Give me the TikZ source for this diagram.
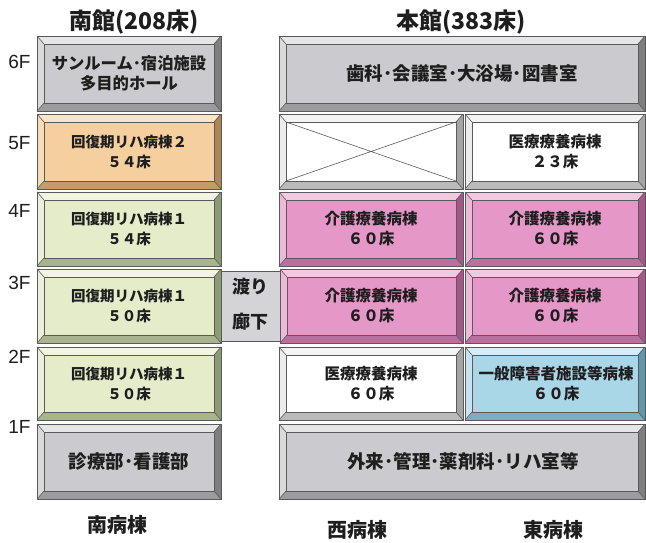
\documentclass[tikz,border=0pt]{standalone}
\usepackage{fontspec}
\newfontfamily\jp{Noto Sans CJK JP}
\newfontfamily\lat{Liberation Sans}
\definecolor{txt}{HTML}{1E1E1E}
\definecolor{edgec}{HTML}{5A5A5A}
% gray
\definecolor{grF}{HTML}{CBCBCF}\definecolor{grT}{HTML}{E6E6E8}\definecolor{grL}{HTML}{DADADD}
\definecolor{grR}{HTML}{7F7F82}\definecolor{grB}{HTML}{9C9C9F}
% orange
\definecolor{orF}{HTML}{F6CF9E}\definecolor{orT}{HTML}{FBE5C8}\definecolor{orL}{HTML}{F9DCB6}
\definecolor{orR}{HTML}{AE8656}\definecolor{orB}{HTML}{C29C6C}
% green
\definecolor{gnF}{HTML}{E4ECCA}\definecolor{gnT}{HTML}{F1F5E2}\definecolor{gnL}{HTML}{EBF1D8}
\definecolor{gnR}{HTML}{8D9B72}\definecolor{gnB}{HTML}{A8B48B}
% pink
\definecolor{pkF}{HTML}{E597C8}\definecolor{pkT}{HTML}{F3C8E2}\definecolor{pkL}{HTML}{EEB8D8}
\definecolor{pkR}{HTML}{A4588A}\definecolor{pkB}{HTML}{BC6E9E}
% white
\definecolor{whF}{HTML}{FFFFFF}\definecolor{whT}{HTML}{F4F4F4}\definecolor{whL}{HTML}{ECECEC}
\definecolor{whR}{HTML}{A4A4A4}\definecolor{whB}{HTML}{BABABA}
% blue
\definecolor{blF}{HTML}{AAD7E7}\definecolor{blT}{HTML}{D5ECF4}\definecolor{blL}{HTML}{C6E4EF}
\definecolor{blR}{HTML}{5F98AA}\definecolor{blB}{HTML}{79AFBF}
\definecolor{wtF}{HTML}{D3D3D8}

\newcommand\bev[5]{%
  \fill[#5F] (#1,#2) rectangle (#3,#4);
  \fill[#5T] (#1,#2) -- (#3,#2) -- (#3-7,#2+8) -- (#1+7,#2+8) -- cycle;
  \fill[#5B] (#1,#4) -- (#3,#4) -- (#3-7,#4-8) -- (#1+7,#4-8) -- cycle;
  \fill[#5L] (#1,#2) -- (#1+7,#2+8) -- (#1+7,#4-8) -- (#1,#4) -- cycle;
  \fill[#5R] (#3,#2) -- (#3-7,#2+8) -- (#3-7,#4-8) -- (#3,#4) -- cycle;
  \draw[edge] (#1,#2) rectangle (#3,#4);
  \draw[edge] (#1+7,#2+8) rectangle (#3-7,#4-8);
  \draw[edge] (#1,#2) -- (#1+7,#2+8) (#3,#2) -- (#3-7,#2+8)
              (#1,#4) -- (#1+7,#4-8) (#3,#4) -- (#3-7,#4-8);
}

\begin{document}
\begin{tikzpicture}[x=1pt,y=-1pt,
  edge/.style={draw=edgec,line width=0.6pt},
  wardL/.style={text=txt,align=center,font=\jp\bfseries\fontsize{14.5}{20}\selectfont},
  wardR/.style={text=txt,align=center,font=\jp\bfseries\fontsize{15.5}{20}\selectfont},
  bigtxt/.style={text=txt,align=center,font=\jp\bfseries\fontsize{18.5}{20}\selectfont},
  title/.style={text=txt,font=\jp\bfseries\fontsize{23}{28}\selectfont},
  wing/.style={text=txt,font=\jp\bfseries\fontsize{20}{24}\selectfont},
  floorlbl/.style={text=txt,anchor=east,font=\lat\fontsize{19}{22}\selectfont}]
\useasboundingbox[fill=white] (0,0) rectangle (646,542);

% titles
\node[title] (tS) at (134,22) {南館(208床)};
\node[title] (tM) at (461,22) {本館(383床)};

% floor labels
\node[floorlbl] (f6) at (34,62) {6F};
\node[floorlbl] (f5) at (34,143) {5F};
\node[floorlbl] (f4) at (34,211) {4F};
\node[floorlbl] (f3) at (34,283) {3F};
\node[floorlbl] (f2) at (34,357) {2F};
\node[floorlbl] (f1) at (34,427) {1F};

% 6F
\bev{37}{36}{221}{111}{gr}
\node[text=txt,align=center,font=\jp\bfseries\fontsize{16.3}{20}\selectfont] (s6) at (129,73) {サンルーム･宿泊施設\\多目的ホール};
\bev{279}{36}{645}{111}{gr}
\node[bigtxt] (m6) at (462,73) {歯科･会議室･大浴場･図書室};

% 5F
\bev{37}{114}{221}{189}{or}
\node[wardL] (s5) at (129,152) {回復期リハ病棟２\\５４床};
\bev{279}{114}{463}{189}{wh}
\coordinate (xa) at (286,122);
\coordinate (xb) at (456,181);
\coordinate (xc) at (286,181);
\coordinate (xd) at (456,122);
\draw[edge] (xa) -- (xb) (xc) -- (xd);
\bev{465}{114}{645}{189}{wh}
\node[wardR] (e5) at (555,152) {医療療養病棟\\２３床};

% 4F
\bev{37}{192}{221}{266}{gn}
\node[wardL] (s4) at (129,229) {回復期リハ病棟１\\５４床};
\bev{279}{192}{463}{266}{pk}
\node[wardR] (w4) at (371,229) {介護療養病棟\\６０床};
\bev{465}{192}{645}{266}{pk}
\node[wardR] (e4) at (555,229) {介護療養病棟\\６０床};

% 3F
\bev{37}{269}{221}{343}{gn}
\node[wardL] (s3) at (129,306) {回復期リハ病棟１\\５０床};
\draw[draw=edgec,line width=0.8pt,fill=wtF] (221,271) rectangle (280,341);
\node[text=txt,align=center,font=\jp\bfseries\fontsize{18}{35}\selectfont] (wt) at (250.5,304) {渡り\\廊下};
\bev{280}{269}{463}{343}{pk}
\node[wardR] (w3) at (371,306) {介護療養病棟\\６０床};
\bev{465}{269}{645}{343}{pk}
\node[wardR] (e3) at (555,306) {介護療養病棟\\６０床};

% 2F
\bev{37}{347}{221}{420}{gn}
\node[wardL] (s2) at (129,384) {回復期リハ病棟１\\５０床};
\bev{279}{347}{463}{420}{wh}
\node[wardR] (w2) at (371,384) {医療療養病棟\\６０床};
\bev{465}{347}{645}{420}{bl}
\node[wardR] (e2) at (556,384) {一般障害者施設等病棟\\６０床};

% 1F
\bev{37}{424}{221}{499}{gr}
\node[bigtxt] (s1) at (129,461) {診療部･看護部};
\bev{279}{424}{645}{499}{gr}
\node[bigtxt] (m1) at (463,461) {外来･管理･薬剤科･リハ室等};

% wings
\node[wing] (wS) at (117,525) {南病棟};
\node[wing] (wW) at (357,530) {西病棟};
\node[wing] (wE) at (553,530) {東病棟};
\end{tikzpicture}
\end{document}
